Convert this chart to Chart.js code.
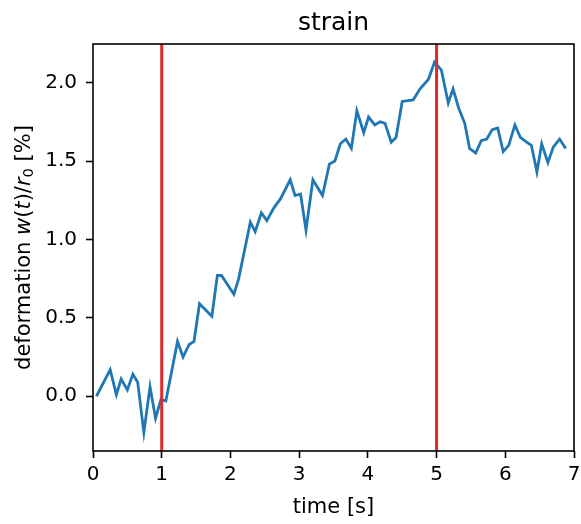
<!DOCTYPE html>
<html>
<head>
<meta charset="utf-8">
<script src="https://cdn.jsdelivr.net/npm/chart.js@4.4.1/dist/chart.umd.min.js"></script>
<style>
  html, body { margin: 0; padding: 0; background: #fff; }
</style>
</head>
<body>
<canvas id="myChart" width="581" height="524"></canvas>
<script>
// time axis [s] and deformation [%]
const times = [
  0.05, 0.25, 0.34, 0.41, 0.50, 0.58, 0.65, 0.74, 0.83, 0.91,
  0.99, 1.06, 1.23, 1.31, 1.40, 1.47, 1.55, 1.73, 1.81, 1.87,
  2.05, 2.12, 2.29, 2.36, 2.45, 2.53, 2.63, 2.73, 2.87, 2.94,
  3.02, 3.10, 3.20, 3.34, 3.44, 3.52, 3.60, 3.68, 3.76, 3.84,
  3.94, 4.01, 4.10, 4.18, 4.25, 4.34, 4.41, 4.50, 4.66, 4.76,
  4.88, 4.97, 5.07, 5.17, 5.24, 5.32, 5.41, 5.48, 5.57, 5.65,
  5.73, 5.81, 5.89, 5.97, 6.05, 6.14, 6.22, 6.31, 6.38, 6.46,
  6.53, 6.62, 6.70, 6.79, 6.88
];
const deformation = [
  0.00, 0.17, 0.01, 0.11, 0.04, 0.14, 0.09, -0.23, 0.06, -0.14,
  -0.02, -0.03, 0.35, 0.25, 0.33, 0.35, 0.59, 0.51, 0.77, 0.77,
  0.65, 0.75, 1.11, 1.05, 1.17, 1.12, 1.20, 1.26, 1.38, 1.28,
  1.29, 1.06, 1.38, 1.28, 1.48, 1.50, 1.61, 1.64, 1.58, 1.82,
  1.68, 1.78, 1.73, 1.75, 1.74, 1.62, 1.65, 1.88, 1.89, 1.96,
  2.02, 2.13, 2.08, 1.87, 1.96, 1.84, 1.74, 1.58, 1.55, 1.63,
  1.64, 1.70, 1.71, 1.56, 1.60, 1.73, 1.65, 1.62, 1.60, 1.43,
  1.61, 1.49, 1.59, 1.64, 1.58
];

// vertical markers at these times
const eventTimes = [1, 5];

const xTicks = [0, 1, 2, 3, 4, 5, 6, 7];
const yTicks = [0.0, 0.5, 1.0, 1.5, 2.0];
const xRange = [0, 7];
const yRange = [-0.349, 2.246];

// y label pieces: [text, style, size factor, shift]
const yLabelParts = [
  ['deformation ', 'normal', 1, 0],
  ['w', 'italic', 1, 0],
  ['(', 'normal', 1, 0],
  ['t', 'italic', 1, 0],
  [')/', 'normal', 1, 0],
  ['r', 'italic', 1, 0],
  ['0', 'normal', 0.7, 3],
  [' [%]', 'normal', 1, 0]
];

const FONT = 'DejaVu Sans';

let points = times.map((t, i) => ({x: t, y: deformation[i]}));

// red lines, box and y label
const strainDecor = {
    id: 'strainDecor',
    afterDatasetsDraw(chart) {
        const {ctx, chartArea: a, scales: {x}} = chart;
        ctx.save();
        ctx.strokeStyle = '#de2a2a';
        ctx.lineWidth = 3;
        eventTimes.forEach(function(t) {
            const px = x.getPixelForValue(t);
            ctx.beginPath();
            ctx.moveTo(px, a.top);
            ctx.lineTo(px, a.bottom);
            ctx.stroke();
        });
        ctx.restore();
    },
    afterDraw(chart) {
        const {ctx, chartArea: a} = chart;
        ctx.save();
        ctx.strokeStyle = '#000';
        ctx.lineWidth = 1.6;
        ctx.strokeRect(a.left, a.top, a.width, a.height);
        ctx.restore();

        // y axis label with math italic parts
        const size = 21;
        ctx.save();
        ctx.translate(29.5, (a.top + a.bottom) / 2);
        ctx.rotate(-Math.PI / 2);
        ctx.fillStyle = '#000';
        ctx.textBaseline = 'alphabetic';
        let total = 0;
        yLabelParts.forEach(function(p) {
            ctx.font = p[1] + ' ' + (size * p[2]) + 'px "' + FONT + '"';
            total += ctx.measureText(p[0]).width;
        });
        let cx = -total / 2;
        yLabelParts.forEach(function(p) {
            ctx.font = p[1] + ' ' + (size * p[2]) + 'px "' + FONT + '"';
            ctx.fillText(p[0], cx, p[3]);
            cx += ctx.measureText(p[0]).width;
        });
        ctx.restore();
    }
};

let config = {
    type: 'scatter',
    data: {
        datasets: [{
            label: 'strain',
            data: points,
            showLine: true,
            borderColor: '#1f77b4',
            borderWidth: 2.8,
            pointRadius: 0,
            tension: 0
        }]
    },
    options: {
        responsive: false,
        animation: false,
        layout: {padding: {left: 0, right: 7, top: 0, bottom: 0}},
        plugins: {
            legend: {display: false},
            tooltip: {enabled: false},
            title: {
                display: true,
                text: 'strain',
                fullSize: false,
                color: '#000',
                font: {family: FONT, size: 25, weight: 'normal'},
                padding: {top: 8.4, bottom: 5.6}
            }
        },
        scales: {
            x: {
                type: 'linear',
                min: xRange[0],
                max: xRange[1],
                afterBuildTicks: function(s) { s.ticks = xTicks.map(v => ({value: v})); },
                afterFit: function(s) {
                    s.height = 73;
                    s.paddingLeft = 0;
                    s.paddingRight = 0;
                },
                border: {display: false},
                grid: {drawOnChartArea: false, drawTicks: true, tickLength: 7, tickWidth: 1.6, tickColor: '#000'},
                ticks: {
                    color: '#000',
                    font: {family: FONT, size: 20},
                    padding: 5,
                    maxRotation: 0,
                    autoSkip: false,
                    callback: v => String(v)
                },
                title: {
                    display: true,
                    text: 'time [s]',
                    color: '#000',
                    font: {family: FONT, size: 21},
                    padding: {top: 0, bottom: 3.7}
                }
            },
            y: {
                type: 'linear',
                min: yRange[0],
                max: yRange[1],
                afterBuildTicks: function(s) { s.ticks = yTicks.map(v => ({value: v})); },
                afterFit: function(s) { s.width = 93; },
                border: {display: false},
                grid: {drawOnChartArea: false, drawTicks: true, tickLength: 7, tickWidth: 1.6, tickColor: '#000'},
                ticks: {
                    color: '#000',
                    font: {family: FONT, size: 20},
                    padding: 9,
                    autoSkip: false,
                    callback: v => v.toFixed(1)
                }
            }
        }
    },
    plugins: [strainDecor]
};

let myChart = new Chart(document.getElementById('myChart'), config);
</script>
</body>
</html>
